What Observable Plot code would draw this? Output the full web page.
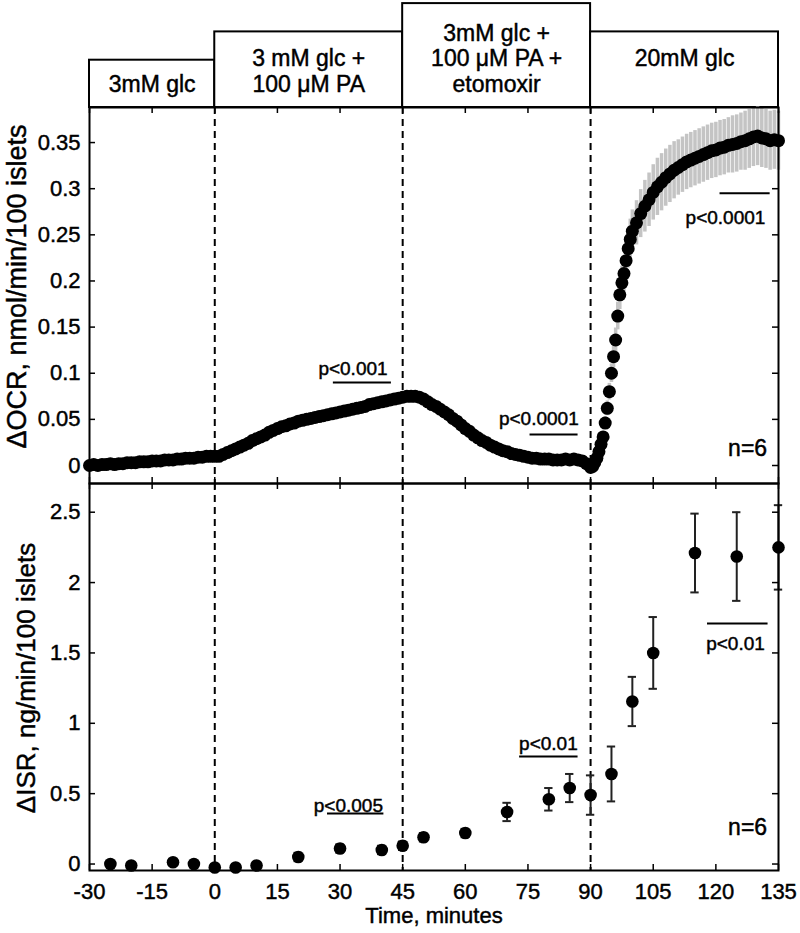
<!DOCTYPE html>
<html><head><meta charset="utf-8">
<script src="https://cdn.jsdelivr.net/npm/d3@7"></script>
<script src="https://cdn.jsdelivr.net/npm/@observablehq/plot@0.6"></script>
<style>
body{margin:0;background:#fff;}
#wrap{position:relative;width:800px;height:933px;overflow:hidden;background:#fff;}
#wrap svg{position:absolute;left:0;}
#wrap svg text{stroke:#000;stroke-width:0.45px;}
</style></head><body><div id="wrap"></div>
<script>
const FONT = '"Liberation Sans", Arial, Helvetica, sans-serif';

// ---- axes / ticks ----
const xDomain = [-30, 135];
const xTicks = [-30, -15, 0, 15, 30, 45, 60, 75, 90, 105, 120, 135];
const phaseBounds = [0, 45, 90];
const ocrDomain = [-0.0195, 0.388];
const ocrTicks = [0, 0.05, 0.1, 0.15, 0.2, 0.25, 0.3, 0.35];
const isrDomain = [-0.046, 2.704];
const isrTicks = [0, 0.5, 1, 1.5, 2, 2.5];

// ---- header phases ----
const phaseStart = [-30, 0, 45, 90];
const phaseEnd = [0, 45, 90, 135];
const phaseRows = [1, 2, 3, 2];
const phaseLabel = [["3mM glc"], ["3 mM glc +", "100 μM PA"], ["3mM glc +", "100 μM PA +", "etomoxir"], ["20mM glc"]];

// ---- ΔOCR series (time, mean, error) ----
const ocrTime = [...d3.range(-30, 90.5, 1), ...d3.range(90.5, 100.25, 0.5), ...d3.range(101, 135.5, 1)];
const ocrValue = [
  0.000,0.001,0.000,0.001,0.001,0.002,0.001,0.002,0.002,0.003,0.003,0.003,0.004,0.004,0.004,0.005,
  0.005,0.005,0.006,0.006,0.006,0.007,0.007,0.008,0.008,0.008,0.009,0.009,0.010,0.010,0.010,
  0.010,0.012,0.014,0.016,0.018,0.020,0.022,0.024,0.027,0.029,0.031,0.033,0.036,0.038,0.040,0.042,
  0.043,0.045,0.046,0.048,0.049,0.050,0.051,0.052,0.053,0.054,0.055,0.056,0.057,0.058,0.059,0.060,
  0.061,0.062,0.063,0.064,0.066,0.067,0.068,0.069,0.070,0.071,0.072,0.073,0.074,0.075,0.075,0.075,
  0.074,0.072,0.069,0.066,0.064,0.061,0.058,0.055,0.051,0.048,0.044,0.040,0.037,0.033,0.030,0.027,
  0.025,0.022,0.020,0.018,0.016,0.015,0.013,0.012,0.011,0.010,0.009,0.008,0.008,0.007,0.007,0.007,
  0.006,0.006,0.006,0.007,0.006,0.007,0.006,0.005,0.002,-0.002,
  -0.001,0.003,0.008,0.015,0.023,0.031,0.046,0.062,0.080,0.100,0.118,0.136,0.162,0.185,0.198,0.208,
  0.222,0.235,0.245,0.254,
  0.263,0.273,0.281,0.288,0.296,0.302,0.307,0.312,0.316,0.320,0.323,0.326,0.329,0.331,0.333,0.335,
  0.337,0.339,0.341,0.342,0.344,0.345,0.347,0.348,0.349,0.351,0.352,0.354,0.356,0.357,0.355,0.354,
  0.352,0.353,0.352
];
const ocrError = [
  0.002,0.002,0.002,0.002,0.002,0.002,0.002,0.002,0.002,0.002,0.002,0.002,0.002,0.002,0.002,0.002,
  0.002,0.002,0.002,0.002,0.002,0.002,0.002,0.002,0.002,0.002,0.002,0.002,0.002,0.002,0.002,
  0.002,0.002,0.002,0.002,0.002,0.002,0.002,0.002,0.002,0.002,0.003,0.003,0.003,0.003,0.003,0.003,
  0.003,0.003,0.003,0.003,0.003,0.003,0.003,0.003,0.003,0.003,0.003,0.003,0.003,0.003,0.004,0.004,
  0.004,0.004,0.004,0.004,0.004,0.004,0.004,0.004,0.005,0.005,0.005,0.005,0.005,0.005,0.005,0.005,
  0.005,0.005,0.005,0.005,0.005,0.005,0.005,0.004,0.004,0.004,0.004,0.004,0.004,0.004,0.004,0.004,
  0.004,0.003,0.003,0.003,0.003,0.003,0.003,0.003,0.003,0.003,0.003,0.003,0.003,0.003,0.003,0.003,
  0.003,0.003,0.003,0.003,0.003,0.003,0.003,0.003,0.003,0.003,
  0.003,0.003,0.004,0.004,0.005,0.006,0.007,0.008,0.009,0.010,0.012,0.013,0.015,0.016,0.018,0.019,
  0.020,0.021,0.022,0.023,
  0.024,0.026,0.028,0.029,0.030,0.031,0.031,0.031,0.031,0.031,0.030,0.030,0.030,0.030,0.030,0.030,
  0.030,0.030,0.030,0.030,0.030,0.030,0.030,0.031,0.031,0.031,0.032,0.032,0.032,0.032,0.032,0.032,
  0.032,0.032,0.032
];

// ---- ΔISR series ----
const isrTime  = [-25, -20, -10, -5, 0, 5, 10, 20, 30, 40, 45, 50, 60, 70, 80, 85, 90, 95, 100, 105, 115, 125, 135];
const isrValue = [0.00, -0.01, 0.013, 0.00, -0.025, -0.025, -0.01, 0.05, 0.11, 0.10, 0.13, 0.19, 0.22, 0.37, 0.46, 0.54, 0.49, 0.64, 1.155, 1.50, 2.21, 2.185, 2.25];
const isrError = [0.02, 0.02, 0.02, 0.02, 0.02, 0.02, 0.02, 0.03, 0.03, 0.03, 0.03, 0.03, 0.03, 0.065, 0.08, 0.10, 0.14, 0.195, 0.175, 0.255, 0.28, 0.315, 0.30];

// ---- annotations ----
const ocrPText = ["p<0.001", "p<0.0001", "p<0.0001"];
const ocrPX = [33.1, 77.6, 122.3];
const ocrPY = [0.105, 0.050, 0.268];
const ocrBarX1 = [28.4, 75.5, 121];
const ocrBarX2 = [42.3, 87, 133];
const ocrBarY = [0.090, 0.0336, 0.295];

const isrPText = ["p<0.005", "p<0.01", "p<0.01"];
const isrPX = [32.0, 79.9, 124.7];
const isrPY = [0.416, 0.856, 1.567];
const isrBarX1 = [27, 73, 118];
const isrBarX2 = [40.5, 87, 132.5];
const isrBarY = [0.359, 0.764, 1.709];

const nLabel = "n=6";
const nX = 127.6;
const nYocr = 0.018, nYisr = 0.26;

const ocrTitle = "ΔOCR, nmol/min/100 islets";
const isrTitle = "ΔISR, ng/min/100 islets";
const xTitle = "Time, minutes";

// ---- build tables ----
const ocr = ocrTime.map((t, i) => ({t, v: ocrValue[i], e: ocrError[i]}));
const isr = isrTime.map((t, i) => ({t, v: isrValue[i], e: isrError[i]}));
const phases = phaseStart.map((s, i) => ({start: s, end: phaseEnd[i], rows: phaseRows[i]}));
const phaseText = phaseLabel.flatMap((lines, i) => lines.map((txt, j) => ({
  x: (phaseStart[i] + phaseEnd[i]) / 2, row: phaseRows[i] - 1 - j, txt
})));
const ocrP = ocrPText.map((txt, i) => ({txt, x: ocrPX[i], y: ocrPY[i], x1: ocrBarX1[i], x2: ocrBarX2[i], by: ocrBarY[i]}));
const isrP = isrPText.map((txt, i) => ({txt, x: isrPX[i], y: isrPY[i], x1: isrBarX1[i], x2: isrBarX2[i], by: isrBarY[i]}));

const W = 800, ML = 89, MR = 22;
const baseStyle = {background: "transparent", fontFamily: FONT, fontSize: "22px", color: "black", overflow: "visible"};

function frameTicks(innerH, innerW, yTicks) {
  return [
    Plot.tickX(xTicks, {x: d => d, insetTop: innerH - 6, stroke: "black", strokeWidth: 1.5}),
    Plot.tickX(xTicks, {x: d => d, insetBottom: innerH - 6, stroke: "black", strokeWidth: 1.5}),
    Plot.tickY(yTicks, {y: d => d, insetRight: innerW - 6, stroke: "black", strokeWidth: 1.5}),
    Plot.tickY(yTicks, {y: d => d, insetLeft: innerW - 6, stroke: "black", strokeWidth: 1.5})
  ];
}

// ---- header ----
const header = Plot.plot({
  width: W, height: 110, marginLeft: ML, marginRight: MR, marginTop: 0, marginBottom: 3,
  x: {domain: xDomain, axis: null},
  y: {domain: [0, 107], axis: null},
  style: baseStyle,
  marks: [
    Plot.rect(phases, {x1: "start", x2: "end", y1: 0, y2: d => 19 + 28.3 * d.rows, fill: "white", stroke: "black", strokeWidth: 2}),
    Plot.text(phaseText, {x: "x", y: d => 23 + 25.5 * d.row, text: "txt", fontSize: 23, fill: "black"})
  ]
});

// ---- top panel ----
const topH = 390, topMT = 7, topMB = 7;
const topPlot = Plot.plot({
  width: W, height: topH, marginLeft: ML, marginRight: MR, marginTop: topMT, marginBottom: topMB,
  x: {domain: xDomain, axis: null},
  y: {domain: ocrDomain},
  style: baseStyle,
  marks: [
    Plot.ruleX(ocr, {x: "t", y1: d => d.v - d.e, y2: d => d.v + d.e, stroke: "#c4c4c4", strokeWidth: 3.5}),
    Plot.ruleX(phaseBounds, {stroke: "black", strokeWidth: 2, strokeDasharray: "7,5"}),
    Plot.dot(ocr, {x: "t", y: "v", r: 6.5, fill: "black", stroke: "none"}),
    Plot.ruleY(ocrP, {x1: "x1", x2: "x2", y: "by", stroke: "black", strokeWidth: 2}),
    Plot.text(ocrP, {x: "x", y: "y", text: "txt", fontSize: 19, fill: "black"}),
    Plot.text([nLabel], {x: nX, y: nYocr, text: d => d, fontSize: 23, fill: "black"}),
    ...frameTicks(topH - topMT - topMB, W - ML - MR, ocrTicks),
    Plot.axisY({ticks: ocrTicks, tickFormat: d => String(d), tickSize: 0, tickPadding: 9, label: null, fontSize: 22}),
    Plot.text([ocrTitle], {frameAnchor: "left", textAnchor: "middle", text: d => d, rotate: -90, dx: -72, dy: -9, fontSize: 27, fill: "black"}),
    Plot.frame({stroke: "black", strokeWidth: 2})
  ]
});

// ---- bottom panel ----
const botH = 457, botMT = 7, botMB = 63;
const botPlot = Plot.plot({
  width: W, height: botH, marginLeft: ML, marginRight: MR, marginTop: botMT, marginBottom: botMB,
  x: {domain: xDomain},
  y: {domain: isrDomain},
  style: baseStyle,
  marks: [
    Plot.ruleX(phaseBounds, {stroke: "black", strokeWidth: 2, strokeDasharray: "7,5"}),
    Plot.ruleX(isr, {x: "t", y1: d => d.v - d.e, y2: d => d.v + d.e, stroke: "#222", strokeWidth: 2}),
    Plot.ruleY(isr, {x1: d => d.t - 1, x2: d => d.t + 1, y: d => d.v + d.e, stroke: "#222", strokeWidth: 2}),
    Plot.ruleY(isr, {x1: d => d.t - 1, x2: d => d.t + 1, y: d => d.v - d.e, stroke: "#222", strokeWidth: 2}),
    Plot.dot(isr, {x: "t", y: "v", r: 6.3, fill: "black", stroke: "none"}),
    Plot.ruleY(isrP, {x1: "x1", x2: "x2", y: "by", stroke: "black", strokeWidth: 2}),
    Plot.text(isrP, {x: "x", y: "y", text: "txt", fontSize: 19, fill: "black"}),
    Plot.text([nLabel], {x: nX, y: nYisr, text: d => d, fontSize: 23, fill: "black"}),
    ...frameTicks(botH - botMT - botMB, W - ML - MR, isrTicks),
    Plot.axisY({ticks: isrTicks, tickFormat: d => String(d), tickSize: 0, tickPadding: 9, label: null, fontSize: 22}),
    Plot.axisX({ticks: xTicks, tickFormat: d => String(d), tickSize: 0, tickPadding: 13, label: null, fontSize: 22}),
    Plot.text([isrTitle], {frameAnchor: "left", textAnchor: "middle", text: d => d, rotate: -90, dx: -63, dy: 1, fontSize: 26, fill: "black"}),
    Plot.text([xTitle], {frameAnchor: "bottom", text: d => d, dy: 52, fontSize: 22, fill: "black"}),
    Plot.frame({stroke: "black", strokeWidth: 2})
  ]
});

const wrap = document.getElementById("wrap");
header.style.top = "0px";
topPlot.style.top = "100px";
botPlot.style.top = "476px";
wrap.appendChild(header);
wrap.appendChild(topPlot);
wrap.appendChild(botPlot);
</script></body></html>
